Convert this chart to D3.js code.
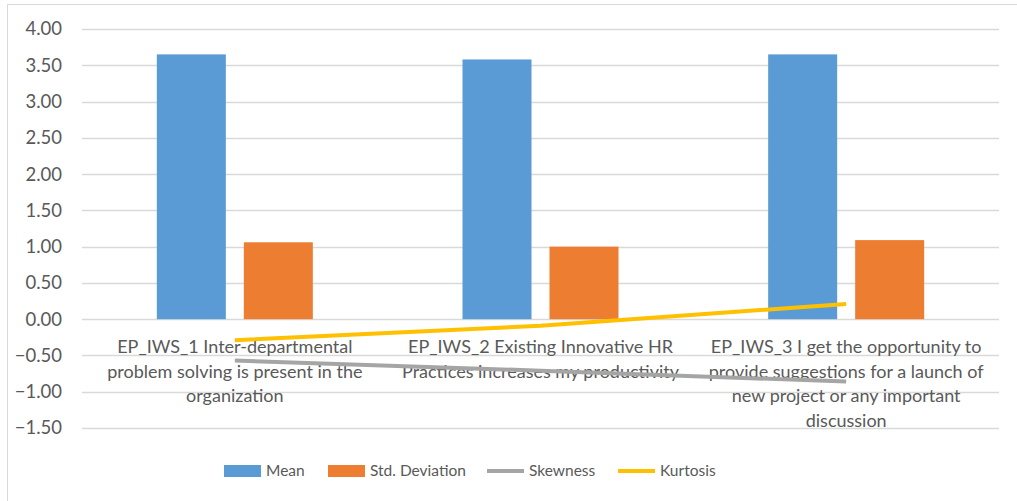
<!DOCTYPE html>
<html>
<head>
<meta charset="utf-8">
<script src="https://cdn.jsdelivr.net/npm/d3@7"></script>
<style>
	body { margin: 0; background: #fff; }
	text { font-family: Lato, "Liberation Sans", sans-serif; fill: #595959; }
</style>
</head>
<body>
<div id="chart"></div>
<script>
"use strict";

// data
const categories = ['EP_IWS_1', 'EP_IWS_2', 'EP_IWS_3'];
const categoryLines = [
	['EP_IWS_1 Inter-departmental', 'problem solving is present in the', 'organization'],
	['EP_IWS_2 Existing Innovative HR', 'Practices increases my productivity'],
	['EP_IWS_3 I get the opportunity to', 'provide suggestions for a launch of', 'new project or any important', 'discussion']
];
const mean = [3.65, 3.58, 3.65];
const stdDev = [1.06, 1.00, 1.09];
const skewness = [-0.57, -0.71, -0.86];
const kurtosis = [-0.29, -0.09, 0.21];
const yTicks = [-1.5, -1, -0.5, 0, 0.5, 1, 1.5, 2, 2.5, 3, 3.5, 4];

const W = 1017, H = 501;
const M = { left: 82, right: 1017 - 999, top: 29, bottom: 501 - 428 };

const svg = d3.select('#chart').append('svg')
	.attr('width', W)
	.attr('height', H);

// chart border
svg.append('rect')
	.attr('x', 7.5).attr('y', 4.5)
	.attr('width', W + 10).attr('height', H + 10)
	.attr('fill', 'none')
	.attr('stroke', '#D9D9D9');

const x = d3.scaleBand()
	.domain(categories)
	.range([M.left, W - M.right]);

const y = d3.scaleLinear()
	.domain([-1.5, 4])
	.range([H - M.bottom, M.top]);

const barW = 69, barGap = 18;
const inner = d3.scaleBand()
	.domain(['Mean', 'Std. Deviation'])
	.range([0, barW * 2 + barGap])
	.paddingInner(barGap / (barW + barGap));

// gridlines
svg.append('g')
	.selectAll('line')
	.data(yTicks)
	.join('line')
	.attr('x1', M.left).attr('x2', W - M.right)
	.attr('y1', d => Math.round(y(d)) + 0.5)
	.attr('y2', d => Math.round(y(d)) + 0.5)
	.attr('stroke', '#D9D9D9')
	.attr('stroke-width', 1.3);

// y axis labels
const yAxis = svg.append('g')
	.attr('transform', `translate(${M.left - 20},0)`)
	.call(d3.axisLeft(y).tickValues(yTicks).tickFormat(d3.format('.2f')).tickSize(0).tickPadding(0));
yAxis.select('.domain').remove();
yAxis.selectAll('text')
	.style('font-size', '18.5px')
	.attr('fill', '#595959');

// bars
const groups = svg.append('g')
	.selectAll('g')
	.data(categories)
	.join('g')
	.attr('transform', d => `translate(${x(d) + (x.bandwidth() - inner.range()[1]) / 2},0)`);

groups.append('rect')
	.attr('x', inner('Mean'))
	.attr('width', inner.bandwidth())
	.attr('y', (d, i) => y(mean[i]))
	.attr('height', (d, i) => y(0) - y(mean[i]))
	.attr('fill', '#5B9BD5');

groups.append('rect')
	.attr('x', inner('Std. Deviation'))
	.attr('width', inner.bandwidth())
	.attr('y', (d, i) => y(stdDev[i]))
	.attr('height', (d, i) => y(0) - y(stdDev[i]))
	.attr('fill', '#ED7D31');

// category labels
const labels = svg.append('g')
	.selectAll('text')
	.data(categories)
	.join('text')
	.attr('text-anchor', 'middle')
	.style('font-size', '18px')
	.attr('transform', d => `translate(${x(d) + x.bandwidth() / 2},${y(0) + 34})`);
labels.selectAll('tspan')
	.data((d, i) => categoryLines[i])
	.join('tspan')
	.attr('x', 0)
	.attr('y', (d, i) => i * 24.5)
	.text(d => d);

// lines
const line = d3.line()
	.x((d, i) => x(categories[i]) + x.bandwidth() / 2)
	.y(d => y(d));

svg.append('path')
	.attr('d', line(skewness))
	.attr('fill', 'none')
	.attr('stroke', '#A5A5A5')
	.attr('stroke-width', 4);

svg.append('path')
	.attr('d', line(kurtosis))
	.attr('fill', 'none')
	.attr('stroke', '#FFC000')
	.attr('stroke-width', 4);

// legend
const legendItems = [
	{ name: 'Mean', color: '#5B9BD5', type: 'bar', x: 224 },
	{ name: 'Std. Deviation', color: '#ED7D31', type: 'bar', x: 328 },
	{ name: 'Skewness', color: '#A5A5A5', type: 'line', x: 487 },
	{ name: 'Kurtosis', color: '#FFC000', type: 'line', x: 618 }
];
const legend = svg.append('g')
	.selectAll('g')
	.data(legendItems)
	.join('g')
	.attr('transform', d => `translate(${d.x},471)`);

legend.append('rect')
	.attr('y', d => d.type === 'bar' ? -6 : -2)
	.attr('width', 37)
	.attr('height', d => d.type === 'bar' ? 12 : 4)
	.attr('fill', d => d.color);

legend.append('text')
	.attr('x', 42)
	.attr('dy', '0.35em')
	.style('font-size', '15.5px')
	.text(d => d.name);
</script>
</body>
</html>
